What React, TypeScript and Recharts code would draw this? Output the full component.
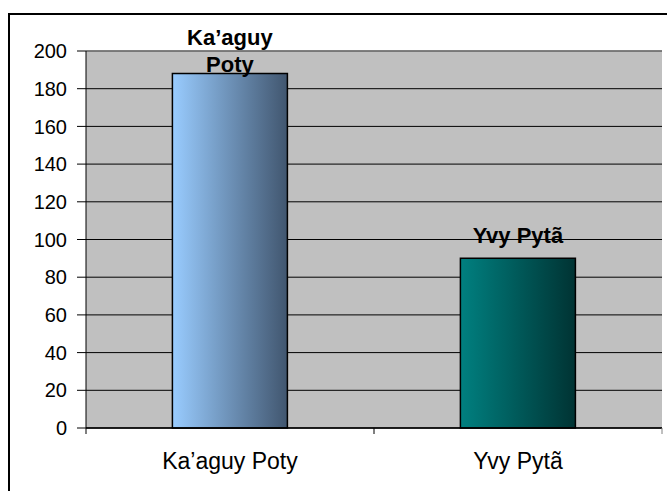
import { BarChart, Bar, XAxis, YAxis, CartesianGrid, Cell, LabelList, ReferenceLine } from 'recharts';

const categories = ['Ka’aguy Poty', 'Yvy Pytã'];
const values = [188, 90];
const yTicks = [0, 20, 40, 60, 80, 100, 120, 140, 160, 180, 200];
const barColors = [
  ['#99CCFF', '#41566F'],
  ['#008080', '#003333'],
];

const data = categories.map((name, i) => ({ name, value: values[i] }));

const W = 667;
const H = 491;
const TOP = 51;
const LEFT = 86;
const RIGHT = 5;
const PLOT_W = W - LEFT - RIGHT;
const BAND = PLOT_W / categories.length;
const FONT = '"Liberation Sans", Arial, sans-serif';

const XTick = (props: any) => {
  const { x, y, payload, index } = props;
  const half = BAND / 2;
  return (
    <g>
      <line x1={x - half} x2={x - half} y1={y} y2={y + 6} stroke="#000" />
      {index === categories.length - 1 && (
        <line x1={x + half} x2={x + half} y1={y} y2={y + 6} stroke="#808080" />
      )}
      <text x={x} y={y + 41} textAnchor="middle" fontSize={23} fontFamily={FONT} fill="#000">
        {payload.value}
      </text>
    </g>
  );
};

const BarLabel = (props: any) => {
  const { x, y, width, value } = props;
  const fs = 22;
  const lh = 27;
  const text = String(value);
  // rough wrap: one word per line when the label is wider than the bar
  const lines = text.length * fs * 0.6 > width ? text.split(' ') : [text];
  let first = y - 15 - (lines.length - 1) * lh;
  if (first < TOP - 6) first = TOP - 6;
  return (
    <text textAnchor="middle" fontSize={fs} fontWeight="bold" fontFamily={FONT} fill="#000">
      {lines.map((l, i) => (
        <tspan key={i} x={x + width / 2} y={first + i * lh}>
          {l}
        </tspan>
      ))}
    </text>
  );
};

export default function App() {
  return (
    <div style={{ position: 'absolute', left: 0, top: 0, width: W, height: H, background: '#fff', overflow: 'hidden' }}>
      <div
        style={{
          position: 'absolute',
          left: 8,
          top: 13,
          width: 700,
          height: 520,
          border: '2px solid #000',
        }}
      />
      <BarChart
        width={W}
        height={H}
        data={data}
        margin={{ top: TOP, right: RIGHT, left: 0, bottom: 23 }}
        barCategoryGap="30%"
        style={{ position: 'absolute', left: 0, top: 0 }}
      >
        <defs>
          {barColors.map((c, i) => (
            <linearGradient key={i} id={`barGrad${i}`} x1="0" y1="0" x2="1" y2="0">
              <stop offset="0%" stopColor={c[0]} />
              <stop offset="100%" stopColor={c[1]} />
            </linearGradient>
          ))}
        </defs>
        <CartesianGrid vertical={false} stroke="#000" fill="#C0C0C0" fillOpacity={1} />
        <XAxis
          dataKey="name"
          height={40}
          axisLine={{ stroke: '#000', strokeWidth: 1.5 }}
          tickLine={false}
          tickSize={0}
          tickMargin={0}
          interval={0}
          tick={<XTick />}
        />
        <YAxis
          width={LEFT}
          domain={[0, 200]}
          ticks={yTicks}
          interval={0}
          axisLine={{ stroke: '#000' }}
          tickLine={{ stroke: '#000' }}
          tickSize={9}
          tickMargin={10}
          tick={{ fontSize: 20, fill: '#000', fontFamily: FONT }}
        />
        <YAxis
          yAxisId="right"
          orientation="right"
          width={0}
          domain={[0, 200]}
          tick={false}
          tickLine={false}
          axisLine={{ stroke: '#808080', strokeWidth: 1.5 }}
        />
        <ReferenceLine y={200} stroke="#808080" strokeWidth={1.5} />
        <Bar dataKey="value" stroke="#000" strokeWidth={1.5} isAnimationActive={false}>
          {data.map((d, i) => (
            <Cell key={d.name} fill={`url(#barGrad${i})`} />
          ))}
          <LabelList dataKey="name" content={<BarLabel />} />
        </Bar>
      </BarChart>
    </div>
  );
}
